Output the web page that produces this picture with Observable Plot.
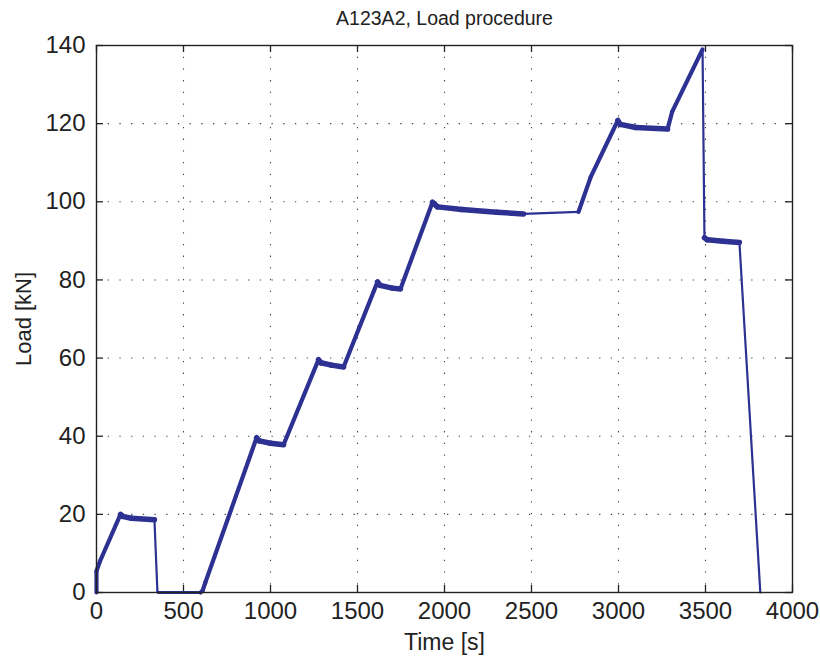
<!DOCTYPE html>
<html>
<head>
<meta charset="utf-8">
<script src="https://cdn.jsdelivr.net/npm/d3@7"></script>
<script src="https://cdn.jsdelivr.net/npm/@observablehq/plot@0.6"></script>
<style>
  html, body { margin: 0; padding: 0; background: #fff; }
</style>
</head>
<body>
<div id="chart"></div>
<script>
// ---- data ----
const titleText = "A123A2, Load procedure";
const xLabel = "Time [s]";
const yLabel = "Load [kN]";
const xTicks = [0, 500, 1000, 1500, 2000, 2500, 3000, 3500, 4000];
const yTicks = [0, 20, 40, 60, 80, 100, 120, 140];

const timeS = [0, 0, 20, 138, 150, 200, 333, 350, 355, 598, 610, 625, 920, 935, 1000, 1075,
  1276, 1290, 1350, 1420, 1615, 1630, 1700, 1747, 1931, 1960, 2100, 2300, 2454,
  2770, 2840, 2996, 3010, 3100, 3282, 3308, 3483, 3494, 3510, 3600, 3695, 3815];
const loadKN = [0, 5.5, 8, 20, 19.5, 19.0, 18.6, 0.3, 0, 0, 0.5, 2.5, 39.6, 38.8, 38.2, 37.8,
  59.6, 58.8, 58.2, 57.7, 79.5, 78.6, 77.9, 77.7, 99.9, 98.7, 98.0, 97.3, 96.9,
  97.4, 106.3, 120.8, 119.8, 119.0, 118.6, 123.0, 139.0, 90.8, 90.3, 89.9, 89.6, 0];
// phase of the segment that starts at each point
const phase = ["ramp", "ramp", "ramp", "hold", "hold", "hold", "drop", "drop", "rest", "ramp", "ramp", "ramp",
  "hold", "hold", "hold", "ramp", "hold", "hold", "hold", "ramp", "hold", "hold", "hold", "ramp",
  "hold", "hold", "hold", "hold", "link", "ramp", "ramp", "hold", "hold", "hold", "ramp", "ramp",
  "drop", "hold", "hold", "hold", "drop"];

// ---- build segment table ----
const segs = d3.range(timeS.length - 1).flatMap(i => [
  {t: timeS[i], l: loadKN[i], seg: i, phase: phase[i]},
  {t: timeS[i + 1], l: loadKN[i + 1], seg: i, phase: phase[i]}
]);

const W = 820, H = 659;
const mt = 45, mb = 67, ml = 96, mr = 28;
const innerW = W - ml - mr, innerH = H - mt - mb;
const lineColor = "#2c3192";
const widths = {hold: 5.5, ramp: 4.2, rest: 3, drop: 2.2, link: 2.2};

const lineMarks = Object.entries(widths).map(([p, w]) =>
  Plot.line(segs.filter(d => d.phase === p), {
    x: "t", y: "l", z: "seg", stroke: lineColor, strokeWidth: w,
    strokeLinecap: "round", strokeLinejoin: "round"
  })
);

const chart = Plot.plot({
  width: W, height: H,
  marginTop: mt, marginBottom: mb, marginLeft: ml, marginRight: mr,
  style: {fontFamily: "'Liberation Sans', Arial, Helvetica, sans-serif", fontSize: "23px", color: "#222", background: "#fff"},
  x: {domain: [0, 4000]},
  y: {domain: [0, 140]},
  marks: [
    // dotted grid
    Plot.ruleX(xTicks, {stroke: "#444", strokeDasharray: "1.3,10.4", strokeWidth: 1.1}),
    Plot.ruleY(yTicks, {stroke: "#444", strokeDasharray: "1.3,10.4", strokeWidth: 1.1}),
    // inward ticks on all four sides
    Plot.ruleX(xTicks, {stroke: "#222", strokeWidth: 1.3, insetTop: innerH - 7}),
    Plot.ruleX(xTicks, {stroke: "#222", strokeWidth: 1.3, insetBottom: innerH - 7}),
    Plot.ruleY(yTicks, {stroke: "#222", strokeWidth: 1.3, insetRight: innerW - 7}),
    Plot.ruleY(yTicks, {stroke: "#222", strokeWidth: 1.3, insetLeft: innerW - 7}),
    // tick labels
    Plot.axisX({ticks: xTicks, tickSize: 0, tickPadding: 9, fontSize: 24, label: null, tickFormat: d => String(d)}),
    Plot.axisY({ticks: yTicks, tickSize: 0, tickPadding: 11, fontSize: 24, label: null, tickFormat: d => String(d)}),
    ...lineMarks,
    Plot.frame({stroke: "#222", strokeWidth: 1.4}),
    // title and axis labels
    Plot.text([titleText], {frameAnchor: "top", dy: -27, fontSize: 19.5, lineAnchor: "middle", textAnchor: "middle", fill: "#222"}),
    Plot.text([xLabel], {frameAnchor: "bottom", dy: 50, fontSize: 23, lineAnchor: "middle", textAnchor: "middle", fill: "#222"}),
    Plot.text([yLabel], {frameAnchor: "left", dx: -73, rotate: -90, fontSize: 22, lineAnchor: "middle", textAnchor: "middle", fill: "#222"})
  ]
});
document.getElementById("chart").appendChild(chart);
</script>
</body>
</html>
